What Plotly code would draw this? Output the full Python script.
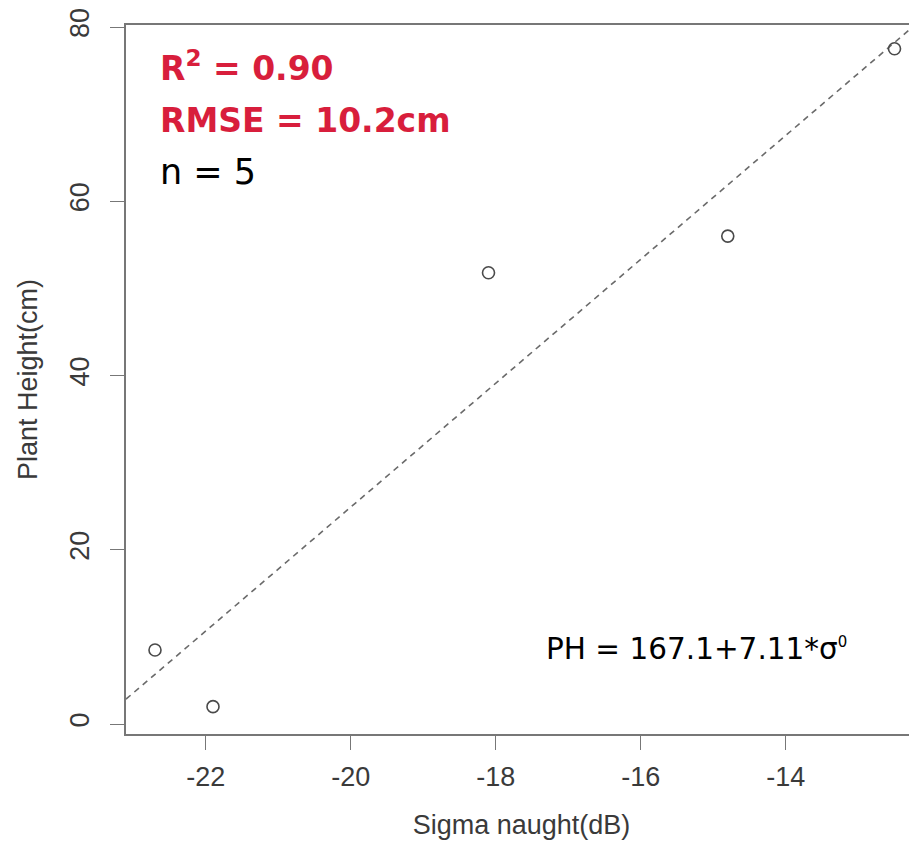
import plotly.graph_objects as go

# Data
sigma0 = [-22.7, -21.9, -18.1, -14.8, -12.5]
plant_height = [8.5, 2.0, 51.8, 56.0, 77.5]
intercept = 167.1
slope = 7.11
x_ticks = [-22, -20, -18, -16, -14]
x_tick_labels = ["-22", "-20", "-18", "-16", "-14"]
y_ticks = [0, 20, 40, 60, 80]
y_tick_labels = ["0", "20", "40", "60", "80"]
x_range = [-23.10, -12.19]
y_range = [-1.14, 80.23]

fit_x = x_range
fit_y = [intercept + slope * v for v in fit_x]

fig = go.Figure()
fig.add_trace(go.Scatter(
    x=fit_x, y=fit_y, mode="lines",
    line=dict(color="#6a6a6a", width=1.6, dash="6px,5px"),
    showlegend=False, hoverinfo="skip"))
fig.add_trace(go.Scatter(
    x=sigma0, y=plant_height, mode="markers",
    marker=dict(symbol="circle-open", size=12, color="#4a4a4a", line=dict(width=1.6)),
    showlegend=False))

axis_font = dict(family="Liberation Sans, Arial, sans-serif", size=27, color="#3a3a3a")

# page has an 8px body margin; figure is offset accordingly
fig.update_layout(
    width=909, height=838,
    margin=dict(l=118, r=0, t=13, b=112),
    paper_bgcolor="white", plot_bgcolor="white",
    xaxis=dict(range=x_range, tickvals=x_ticks, ticktext=x_tick_labels,
               showgrid=False, zeroline=False,
               showline=True, mirror=True, linecolor="#777777", linewidth=2,
               ticks="outside", ticklen=14, tickwidth=1.3, tickcolor="#777777",
               tickfont=axis_font, ticklabelstandoff=4, ticklabeloverflow="allow",
               title=dict(text="Sigma naught(dB)", font=axis_font, standoff=24)),
    yaxis=dict(range=y_range, tickvals=y_ticks, ticktext=y_tick_labels,
               showgrid=False, zeroline=False,
               showline=True, linecolor="#777777", linewidth=2,
               ticks="outside", ticklen=14, tickwidth=1.3, tickcolor="#777777",
               tickfont=axis_font, tickangle=-90, ticklabelstandoff=10,
               ticklabeloverflow="allow",
               title=dict(text="Plant Height(cm)", font=axis_font, standoff=20)),
)

red = "#d81e3c"
ann_font = "DejaVu Sans, Verdana, sans-serif"
fig.add_annotation(xref="paper", yref="paper", x=0.041, y=0.942, xanchor="left", yanchor="middle",
                   text="<b>R<sup>2</sup> = 0.90</b>", showarrow=False,
                   font=dict(family=ann_font, size=33, color=red))
fig.add_annotation(xref="paper", yref="paper", x=0.041, y=0.8647, xanchor="left", yanchor="middle",
                   text="<b>RMSE = 10.2cm</b>", showarrow=False,
                   font=dict(family=ann_font, size=33, color=red))
fig.add_annotation(xref="paper", yref="paper", x=0.041, y=0.7931, xanchor="left", yanchor="middle",
                   text="n = 5", showarrow=False,
                   font=dict(family=ann_font, size=35, color="black"))
fig.add_annotation(xref="paper", yref="paper", x=0.528, y=0.1192, xanchor="left", yanchor="middle",
                   text="PH = 167.1+7.11*σ<sup><span style=\"font-size:15px;fill:black;color:black\">0</span></sup>",
                   showarrow=False,
                   font=dict(family=ann_font, size=29.5, color="black"))

fig.write_html("out.html")
